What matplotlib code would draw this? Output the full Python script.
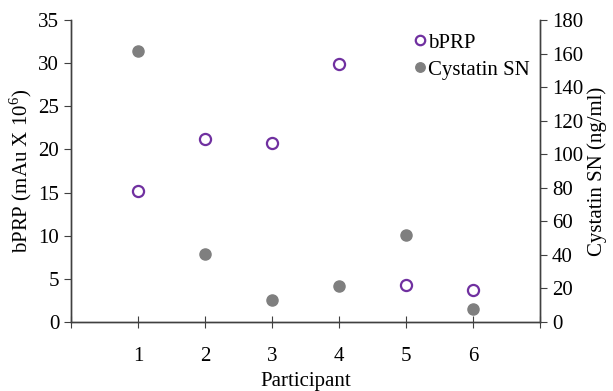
import matplotlib
matplotlib.use("Agg")
import matplotlib.pyplot as plt
from matplotlib.ticker import MultipleLocator

participants = [1, 2, 3, 4, 5, 6]
bprp = [15.2, 21.2, 20.7, 29.9, 4.3, 3.7]
cystatin = [161.5, 40.6, 13.4, 21.6, 52.0, 7.7]

plt.rcParams['font.family'] = ['Liberation Serif', 'DejaVu Serif']
plt.rcParams['font.size'] = 15
plt.rcParams['mathtext.fontset'] = 'custom'
plt.rcParams['mathtext.rm'] = 'Liberation Serif'

fig = plt.figure(figsize=(6.13, 3.91), dpi=100)
ax = fig.add_axes([0.116, 0.1765, 0.765, 0.7725])
ax2 = ax.twinx()

h1, = ax.plot(participants, bprp, 'o', mfc='white', mec='#7030A0', mew=1.6, ms=8, label='bPRP', linestyle='none')
h2, = ax2.plot(participants, cystatin, 'o', color='#7f7f7f', ms=8, label='Cystatin SN', linestyle='none')
ax.set_zorder(ax2.get_zorder() + 1)
ax.patch.set_visible(False)

ax.set_xlim(0, 7)
ax.set_ylim(0, 35)
ax2.set_ylim(0, 180)
ax.set_xticks(range(0, 8))
ax.set_xticklabels(['', '1', '2', '3', '4', '5', '6', ''])
ax.yaxis.set_major_locator(MultipleLocator(5))
ax2.yaxis.set_major_locator(MultipleLocator(20))

for a in (ax, ax2):
    a.spines['top'].set_visible(False)
    for s in a.spines.values():
        s.set_color('#404040')
        s.set_linewidth(1.0)
ax.tick_params(axis='x', direction='inout', length=8, pad=14, color='#404040')
ax.tick_params(axis='y', direction='out', length=5, color='#404040')
ax2.tick_params(axis='y', direction='out', length=5, color='#404040')

ax.set_xlabel('Participant', labelpad=4)
ax.set_ylabel('bPRP (mAu X 10$^{\\mathrm{6}}$)', labelpad=3)
ax2.set_ylabel('Cystatin SN (ng/ml)', labelpad=3)

ax.legend([h1, h2], ['bPRP', 'Cystatin SN'], loc='upper right', bbox_to_anchor=(1.005, 0.998),
          frameon=False, handletextpad=-0.1, labelspacing=0.35, borderaxespad=0.2,
          handlelength=1.0, markerscale=0.85)

fig.savefig('out.png', dpi=100)
